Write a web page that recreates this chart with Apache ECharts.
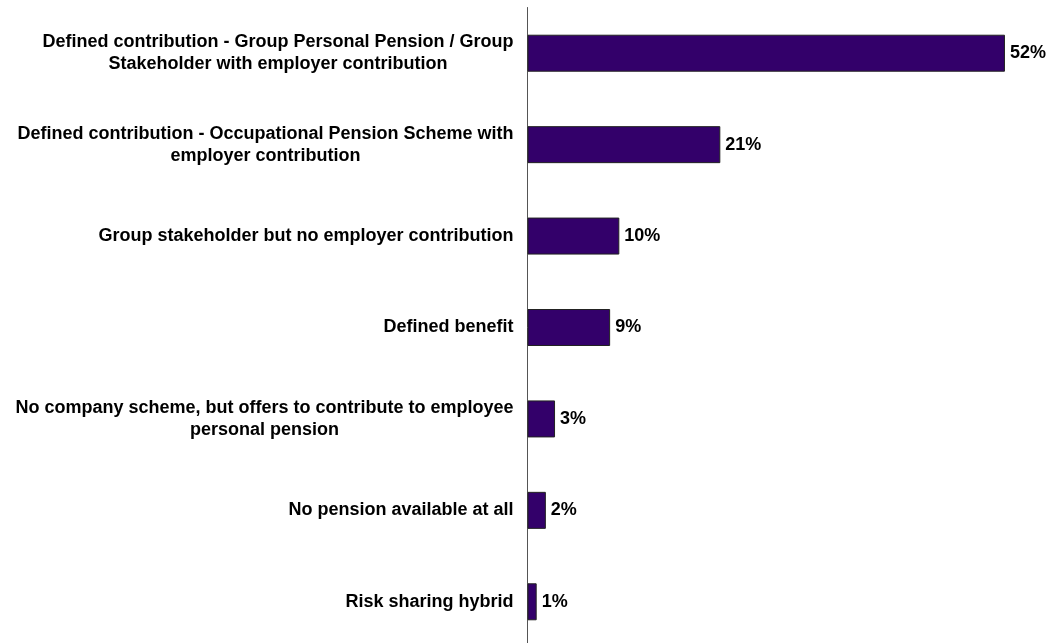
<!DOCTYPE html>
<html>
<head>
<meta charset="utf-8">
<script src="https://cdn.jsdelivr.net/npm/echarts@6/dist/echarts.min.js"></script>
<style>
  html, body { margin: 0; padding: 0; background: #fff; overflow: hidden; }
  #chart { width: 1051px; height: 650px; }
</style>
</head>
<body>
<div id="chart"></div>
<script>
// Pension provision offered by employers (share of respondents, %)
const categories = [
  'Defined contribution - Group Personal Pension / Group\nStakeholder with employer contribution',
  'Defined contribution - Occupational Pension Scheme with\nemployer contribution',
  'Group stakeholder but no employer contribution',
  'Defined benefit',
  'No company scheme, but offers to contribute to employee\npersonal pension',
  'No pension available at all',
  'Risk sharing hybrid'
];
const values = [52, 21, 10, 9, 3, 2, 1];

const FONT = '"Liberation Sans", Arial, sans-serif';

const chart = echarts.init(document.getElementById('chart'));
chart.setOption({
  backgroundColor: '#ffffff',
  animation: false,
  grid: { left: 527.5, top: 7.5, width: 505, height: 640, containLabel: false },
  xAxis: {
    type: 'value',
    min: 0,
    max: 55,
    show: false
  },
  yAxis: {
    type: 'category',
    inverse: true,
    data: categories,
    axisTick: { show: false },
    axisLine: { show: true, lineStyle: { color: '#555555', width: 1 } },
    axisLabel: {
      margin: 14,
      align: 'right',
      formatter: function (v) {
        return v.split('\n').map(function (l) { return '{c|' + l + '}'; }).join('\n');
      },
      rich: {
        c: {
          align: 'center',
          fontFamily: FONT,
          fontWeight: 'bold',
          fontSize: 18,
          lineHeight: 22,
          color: '#000000'
        }
      }
    }
  },
  series: [{
    type: 'bar',
    data: values,
    barWidth: 37,
    itemStyle: { color: '#33006a', borderColor: '#222222', borderWidth: 1 },
    label: {
      show: true,
      position: 'right',
      distance: 5,
      formatter: '{c}%',
      fontFamily: FONT,
      fontWeight: 'bold',
      fontSize: 18,
      color: '#000000'
    }
  }]
});
</script>
</body>
</html>
